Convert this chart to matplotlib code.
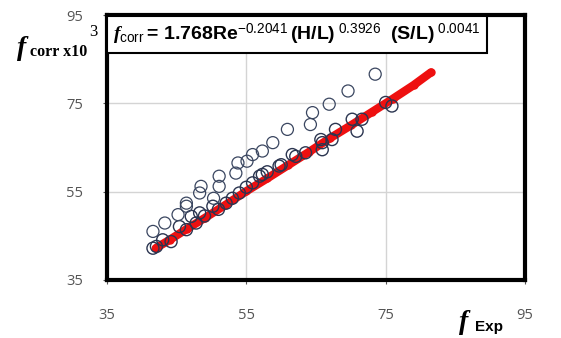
import matplotlib
matplotlib.use("Agg")
import matplotlib.pyplot as plt

# data
upper_x = [41.6, 43.3, 45.2, 46.4, 46.4, 48.3, 48.5, 50.3, 51.1, 51.1, 53.5, 53.8,
           55.1, 55.9, 57.3, 58.8, 60.9, 64.2, 64.5, 66.9, 69.6, 73.5]
upper_y = [46.0, 47.9, 49.8, 51.7, 52.4, 54.7, 56.2, 53.5, 56.2, 58.5, 59.2, 61.5,
           61.9, 63.4, 64.2, 66.1, 69.1, 70.2, 72.9, 74.8, 77.8, 81.6]

lower_x = [41.6, 42.1, 43.0, 44.2, 45.4, 46.4, 47.1, 47.8, 48.3, 49.0, 50.2, 51.0,
           52.1, 53.0, 54.0, 55.0, 55.9, 56.9, 57.3, 58.0, 59.7, 60.0, 61.6, 62.1,
           63.5, 65.7, 65.9, 65.9, 67.3, 67.8, 70.2, 70.9, 71.6, 75.0, 75.9]
lower_y = [42.2, 42.6, 44.1, 43.7, 47.1, 46.4, 49.4, 47.9, 50.2, 49.5, 51.7, 51.0,
           52.4, 53.5, 54.7, 56.0, 57.0, 58.5, 58.9, 59.5, 60.8, 61.1, 63.4, 63.0,
           63.8, 66.8, 64.5, 66.1, 66.8, 69.1, 71.4, 68.7, 71.4, 75.2, 74.4]

red_x = [42.0, 44.0, 46.5, 49.0, 52.0, 55.0, 58.0, 61.0, 64.0, 67.0, 70.0, 73.0,
         76.0, 79.0, 81.5]
red_y = [42.2, 44.1, 46.6, 49.0, 52.0, 55.1, 58.0, 61.0, 64.0, 67.1, 70.0, 73.0,
         76.0, 79.1, 82.0]

ticks = [35, 55, 75, 95]

plt.rcParams['mathtext.fontset'] = 'custom'
plt.rcParams['mathtext.sf'] = 'Liberation Sans:bold'
plt.rcParams['mathtext.rm'] = 'Liberation Sans'
plt.rcParams['mathtext.it'] = 'Liberation Serif:bold:italic'
plt.rcParams['mathtext.bf'] = 'Liberation Serif:bold'

fig = plt.figure(figsize=(5.61, 3.38), dpi=100)
ax = fig.add_axes([0.1907, 0.1716, 0.7451, 0.784])

ax.plot(red_x, red_y, color='#ee1010', lw=6, marker='o', ms=5,
        solid_capstyle='round', zorder=2)
ax.scatter(lower_x, lower_y, s=75, facecolors='none', edgecolors='#2b3550',
           linewidths=1.0, zorder=3)
ax.scatter(upper_x, upper_y, s=75, facecolors='none', edgecolors='#3a4660',
           linewidths=0.9, zorder=3)

ax.set_xlim(35, 95)
ax.set_ylim(35, 95)
ax.set_xticks(ticks)
ax.set_yticks(ticks)
ax.grid(True, color='#d4d4d4', lw=1)
ax.set_axisbelow(True)
for s in ax.spines.values():
    s.set_linewidth(3)
    s.set_color('black')
ax.tick_params(axis='y', length=3, pad=14, labelsize=10.5, colors='#555555')
ax.tick_params(axis='x', length=3, pad=17, labelsize=10.5, colors='#555555')
for lab in ax.get_xticklabels() + ax.get_yticklabels():
    lab.set_fontfamily('Open Sans')

ax.text(0.015, 0.975,
        r"$\mathit{f}_{\mathrm{corr}}{\mathsf{=}}\,\mathsf{1.768Re}^{\mathrm{-0.2041}}\,"
        r"\mathsf{(H/L)}^{\mathrm{\ 0.3926}}\ \ \mathsf{(S/L)}^{\mathrm{\ 0.0041}}$",
        transform=ax.transAxes, ha='left', va='top', fontsize=14,
        bbox=dict(boxstyle='square,pad=0.3', fc='white', ec='black', lw=1.5),
        zorder=5)

# axis labels
fig.text(17 / 561, 1 - 55 / 338, 'f', fontsize=20, family='Liberation Serif',
         weight='bold', style='italic', ha='left', va='baseline')
fig.text(30 / 561, 1 - 56 / 338, 'corr x10', fontsize=11.5, family='Liberation Serif',
         weight='bold', ha='left', va='baseline')
fig.text(89 / 561, 1 - 36 / 338, '3', fontsize=12, family='Liberation Serif',
         ha='left', va='baseline')
fig.text(459 / 561, 1 - 329 / 338, 'f', fontsize=20, family='Liberation Serif',
         weight='bold', style='italic', ha='left', va='baseline')
fig.text(475 / 561, 1 - 331 / 338, 'Exp', fontsize=11, family='Liberation Sans',
         weight='bold', ha='left', va='baseline')

fig.savefig('out.png', dpi=100)
